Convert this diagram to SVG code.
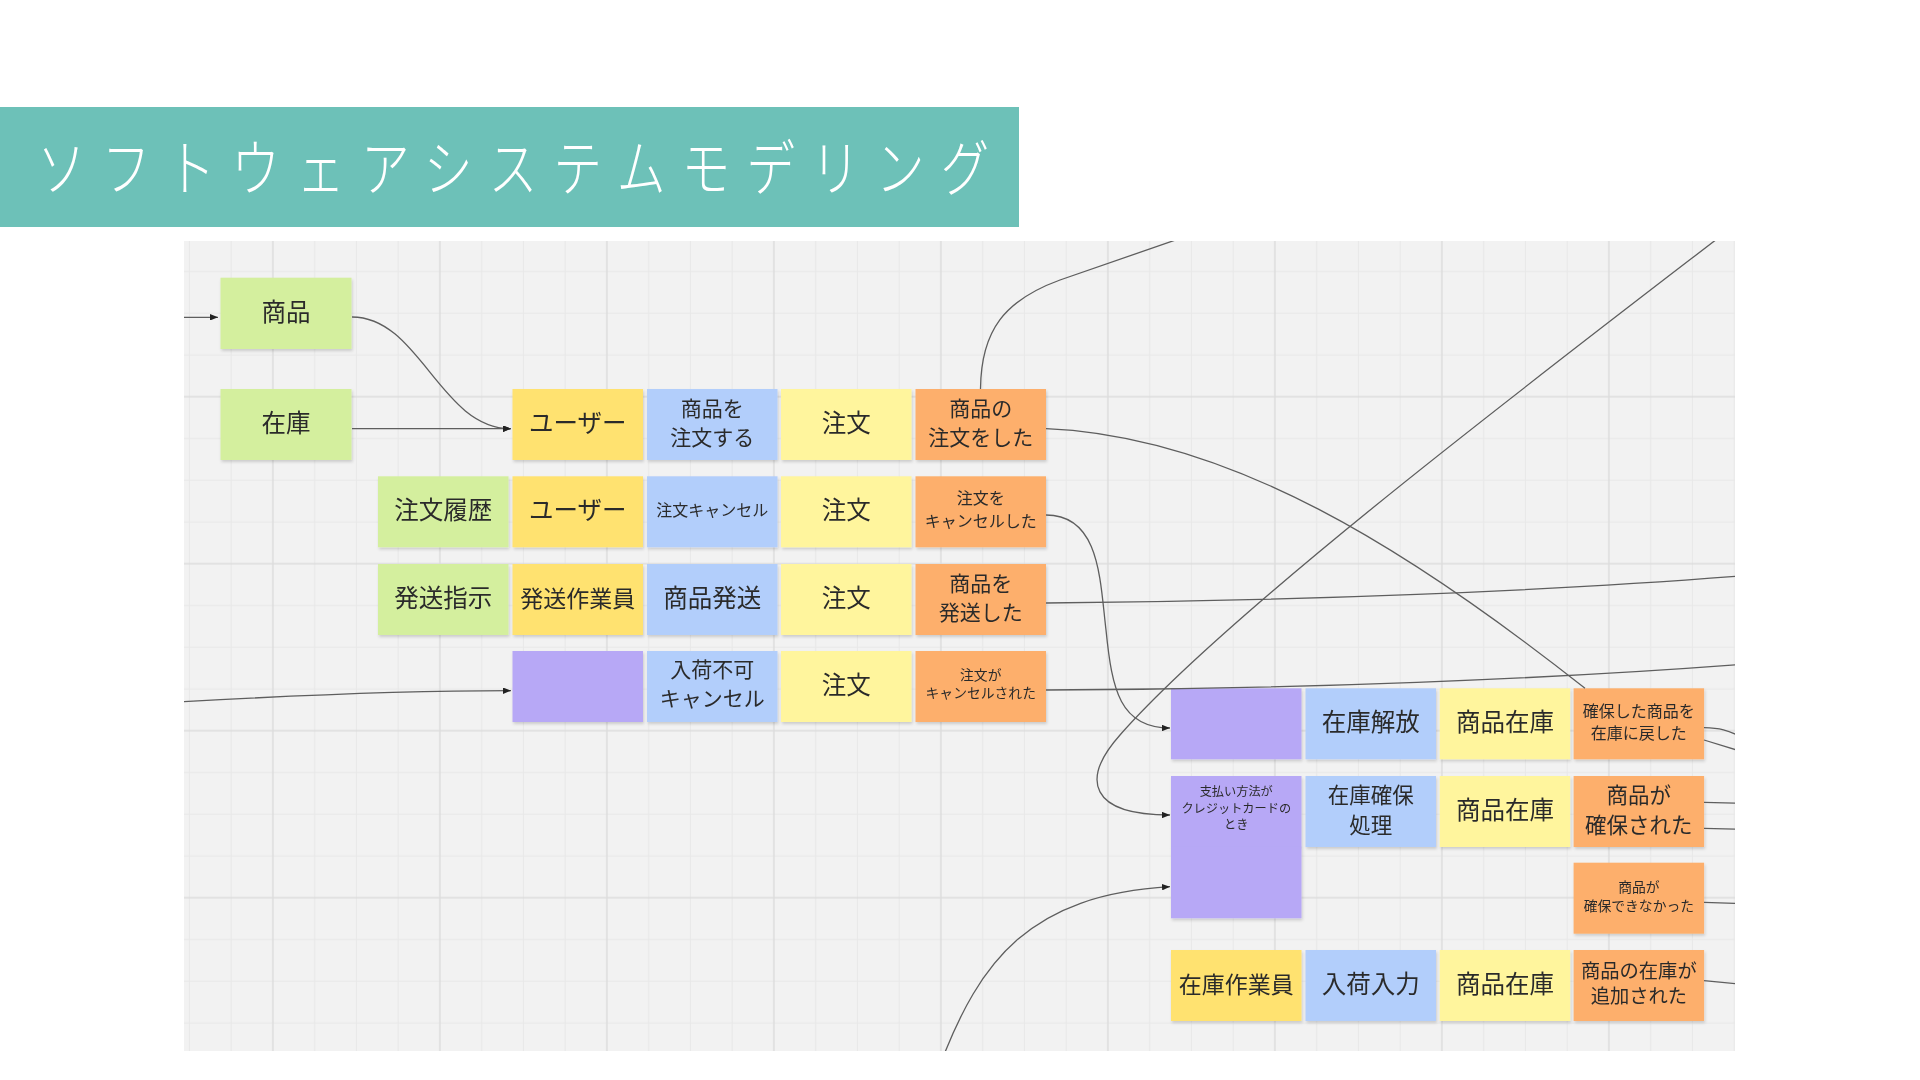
<svg xmlns="http://www.w3.org/2000/svg" width="1920" height="1080" viewBox="0 0 1920 1080">
<style>
  .t { font-family: "Noto Sans CJK JP", "Noto Sans", sans-serif; fill: #2b2b2b; text-anchor: middle; dominant-baseline: central; transform: translateY(-3px); }
  .t24 { font-size: 24.5px; }
  .t23 { font-size: 23px; }
  .t215 { font-size: 21.5px; }
  .t21 { font-size: 21px; }
  .t19 { font-size: 19.3px; }
  .t16 { font-size: 16px; }
  .t14 { font-size: 13.8px; }
  .t12 { font-size: 12.2px; }
  .green { fill: #d4ef9e; }
  .actor { fill: #ffe26f; }
  .cmd { fill: #b2cefb; }
  .agg { fill: #fff59d; }
  .evt { fill: #fdaf6c; }
  .pol { fill: #b7a8f6; }
  .sticky { filter: url(#shadow); }
  .conn { fill: none; stroke: #5e5e5e; stroke-width: 1.3; }
  .arr { marker-end: url(#arrow); }
</style>
<defs>
  <pattern id="grid" patternUnits="userSpaceOnUse" x="252.9" y="376.7" width="167" height="167">
    <rect width="167" height="167" fill="#f2f2f2"/>
    <path d="M61.75 0V167M103.5 0V167M145.25 0V167M0 61.75H167M0 103.5H167M0 145.25H167" stroke="#e8e8e8" stroke-width="1"/>
    <path d="M20 0V167M0 20H167" stroke="#dddddd" stroke-width="1.5"/>
  </pattern>
  <clipPath id="board"><rect x="184" y="241" width="1551" height="810"/></clipPath>
  <filter id="shadow" x="-10%" y="-10%" width="125%" height="130%">
    <feDropShadow dx="1" dy="2" stdDeviation="1.6" flood-color="#000" flood-opacity="0.16"/>
  </filter>
  <marker id="arrow" viewBox="0 0 10 8" refX="10" refY="4" markerWidth="8" markerHeight="6.4" markerUnits="userSpaceOnUse" orient="auto">
    <path d="M0 0L10 4L0 8Z" fill="#222"/>
  </marker>
</defs>

<rect width="1920" height="1080" fill="#ffffff"/>

<g id="title">
  <rect x="0" y="107" width="1019" height="120" fill="#6dc1b8"/>
  <text transform="translate(37,191) scale(0.8,1)" font-family="'Noto Sans CJK JP', 'Noto Sans', sans-serif" font-size="61" font-weight="300" fill="#ffffff" letter-spacing="20">ソフトウェアシステムモデリング</text>
</g>

<rect id="board-bg" x="184" y="241" width="1551" height="810" fill="url(#grid)"/>

<g id="n-shohin" class="sticky"><rect class="green" x="220.5" y="277.7" width="131" height="71.3"/><text class="t t24" x="286" y="313.4">商品</text></g>
<g id="n-zaiko" class="sticky"><rect class="green" x="220.5" y="389" width="131" height="71"/><text class="t t24" x="286" y="424.5">在庫</text></g>

<g id="n-user1" class="sticky"><rect class="actor" x="512.5" y="389" width="130.5" height="71"/><text class="t t24" x="577.75" y="424.5">ユーザー</text></g>
<g id="n-order-cmd" class="sticky"><rect class="cmd" x="647" y="389" width="130.5" height="71"/><text class="t t21"><tspan x="712.25" y="410">商品を</tspan><tspan x="712.25" y="438.5">注文する</tspan></text></g>
<g id="n-order1" class="sticky"><rect class="agg" x="781" y="389" width="130.5" height="71"/><text class="t t24" x="846.25" y="424.5">注文</text></g>
<g id="n-ordered" class="sticky"><rect class="evt" x="915.5" y="389" width="130.5" height="71"/><text class="t t21"><tspan x="980.75" y="410">商品の</tspan><tspan x="980.75" y="439">注文をした</tspan></text></g>

<g id="n-history" class="sticky"><rect class="green" x="378" y="476.3" width="130.5" height="71"/><text class="t t24" x="443.25" y="511.8">注文履歴</text></g>
<g id="n-user2" class="sticky"><rect class="actor" x="512.5" y="476.3" width="130.5" height="71"/><text class="t t24" x="577.75" y="511.8">ユーザー</text></g>
<g id="n-cancel-cmd" class="sticky"><rect class="cmd" x="647" y="476.3" width="130.5" height="71"/><text class="t t16" x="712.25" y="511.8">注文キャンセル</text></g>
<g id="n-order2" class="sticky"><rect class="agg" x="781" y="476.3" width="130.5" height="71"/><text class="t t24" x="846.25" y="511.8">注文</text></g>
<g id="n-cancelled" class="sticky"><rect class="evt" x="915.5" y="476.3" width="130.5" height="71"/><text class="t t16"><tspan x="980.75" y="500">注文を</tspan><tspan x="980.75" y="522.5">キャンセルした</tspan></text></g>

<g id="n-ship-inst" class="sticky"><rect class="green" x="378" y="564" width="130.5" height="71"/><text class="t t24" x="443.25" y="599.5">発送指示</text></g>
<g id="n-shipper" class="sticky"><rect class="actor" x="512.5" y="564" width="130.5" height="71"/><text class="t t23" x="577.75" y="599.5">発送作業員</text></g>
<g id="n-ship-cmd" class="sticky"><rect class="cmd" x="647" y="564" width="130.5" height="71"/><text class="t t24" x="712.25" y="599.5">商品発送</text></g>
<g id="n-order3" class="sticky"><rect class="agg" x="781" y="564" width="130.5" height="71"/><text class="t t24" x="846.25" y="599.5">注文</text></g>
<g id="n-shipped" class="sticky"><rect class="evt" x="915.5" y="564" width="130.5" height="71"/><text class="t t21"><tspan x="980.75" y="584.5">商品を</tspan><tspan x="980.75" y="613.5">発送した</tspan></text></g>

<g id="n-policy1" class="sticky"><rect class="pol" x="512.5" y="651" width="130.5" height="71"/></g>
<g id="n-nostock-cmd" class="sticky"><rect class="cmd" x="647" y="651" width="130.5" height="71"/><text class="t t21"><tspan x="712.25" y="671">入荷不可</tspan><tspan x="712.25" y="699.5">キャンセル</tspan></text></g>
<g id="n-order4" class="sticky"><rect class="agg" x="781" y="651" width="130.5" height="71"/><text class="t t24" x="846.25" y="686.5">注文</text></g>
<g id="n-order-cancelled" class="sticky"><rect class="evt" x="915.5" y="651" width="130.5" height="71"/><text class="t t14"><tspan x="980.75" y="676.5">注文が</tspan><tspan x="980.75" y="694.5">キャンセルされた</tspan></text></g>

<g id="n-policy2" class="sticky"><rect class="pol" x="1171" y="688.3" width="130.5" height="71"/></g>
<g id="n-release-cmd" class="sticky"><rect class="cmd" x="1305.5" y="688.3" width="130.5" height="71"/><text class="t t24" x="1370.75" y="723.8">在庫解放</text></g>
<g id="n-stock1" class="sticky"><rect class="agg" x="1439.7" y="688.3" width="130.5" height="71"/><text class="t t24" x="1504.95" y="723.8">商品在庫</text></g>
<g id="n-released" class="sticky"><rect class="evt" x="1573.6" y="688.3" width="130.5" height="71"/><text class="t t16"><tspan x="1638.85" y="713">確保した商品を</tspan><tspan x="1638.85" y="735">在庫に戻した</tspan></text></g>

<g id="n-policy3" class="sticky"><rect class="pol" x="1171" y="776" width="130.5" height="71"/><text class="t t12"><tspan x="1236.25" y="794">支払い方法が</tspan><tspan x="1236.25" y="810.5">クレジットカードの</tspan><tspan x="1236.25" y="827">とき</tspan></text></g>
<g id="n-reserve-cmd" class="sticky"><rect class="cmd" x="1305.5" y="776" width="130.5" height="71"/><text class="t t215"><tspan x="1370.75" y="796">在庫確保</tspan><tspan x="1370.75" y="825.5">処理</tspan></text></g>
<g id="n-stock2" class="sticky"><rect class="agg" x="1439.7" y="776" width="130.5" height="71"/><text class="t t24" x="1504.95" y="811.5">商品在庫</text></g>
<g id="n-reserved" class="sticky"><rect class="evt" x="1573.6" y="776" width="130.5" height="71"/><text class="t t215"><tspan x="1638.85" y="796">商品が</tspan><tspan x="1638.85" y="826">確保された</tspan></text></g>

<g id="n-policy4" class="sticky"><rect class="pol" x="1171" y="846.7" width="130.5" height="71.6"/></g>
<g id="n-not-reserved" class="sticky"><rect class="evt" x="1573.6" y="862.7" width="130.5" height="71"/><text class="t t14"><tspan x="1638.85" y="888.5">商品が</tspan><tspan x="1638.85" y="907.5">確保できなかった</tspan></text></g>

<g id="n-stock-worker" class="sticky"><rect class="actor" x="1171" y="950" width="130.5" height="71"/><text class="t t23" x="1236.25" y="985.5">在庫作業員</text></g>
<g id="n-arrival-cmd" class="sticky"><rect class="cmd" x="1305.5" y="950" width="130.5" height="71"/><text class="t t24" x="1370.75" y="985.5">入荷入力</text></g>
<g id="n-stock3" class="sticky"><rect class="agg" x="1439.7" y="950" width="130.5" height="71"/><text class="t t24" x="1504.95" y="985.5">商品在庫</text></g>
<g id="n-stock-added" class="sticky"><rect class="evt" x="1573.6" y="950" width="130.5" height="71"/><text class="t t19"><tspan x="1638.85" y="973">商品の在庫が</tspan><tspan x="1638.85" y="997.5">追加された</tspan></text></g>

<g id="connectors" clip-path="url(#board)">
  <path class="conn arr" d="M170 317.3L218 317.3"/>
  <path class="conn arr" d="M352 317C420 317 440 428.7 511 428.7"/>
  <path class="conn arr" d="M352 428.7L511 428.7"/>
  <path class="conn arr" d="M170 702.5C300 695 400 690.7 511 690.7"/>
  <path class="conn" d="M980.5 389C981 330 1005 300 1060 280C1100 266 1140 252 1190 235"/>
  <path class="conn" d="M1046 428.6C1230 436 1410 550 1585 688.3"/>
  <path class="conn arr" d="M1046 515C1100 515 1100 580 1106 630C1112 690 1120 728 1170 728"/>
  <path class="conn" d="M1046 603C1300 601 1550 591 1740 576"/>
  <path class="conn" d="M1046 690C1300 689 1550 679 1740 664.5"/>
  <path class="conn arr" d="M1730 229C1540 375 1230 610 1120 735C1080 780 1090 815 1170 815"/>
  <path class="conn arr" d="M940 1065C980 960 1030 895 1170 886.7"/>
  <path class="conn" d="M1704 727.7C1720 728 1728 730 1740 736.5"/>
  <path class="conn" d="M1704 740L1740 751"/>
  <path class="conn" d="M1704 802.3L1740 803.3"/>
  <path class="conn" d="M1704 828.3L1740 829.3"/>
  <path class="conn" d="M1704 902.3L1740 903.5"/>
  <path class="conn" d="M1704 980.7L1740 984"/>
</g>
</svg>
